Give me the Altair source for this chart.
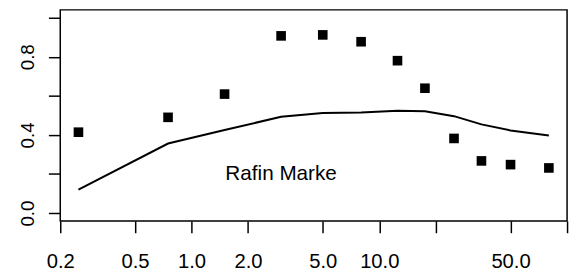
import altair as alt
import pandas as pd

x_vals = [0.25, 0.75, 1.5, 3, 5, 8, 12.5, 17.5, 25, 35, 50, 80]
point_vals = [0.414, 0.490, 0.609, 0.907, 0.912, 0.877, 0.780, 0.639, 0.382, 0.267, 0.248, 0.231]
line_vals = [0.120, 0.356, 0.425, 0.493, 0.512, 0.515, 0.524, 0.521, 0.496, 0.454, 0.423, 0.397]
x_ticks = [0.2, 0.5, 1, 2, 5, 10, 20, 50, 100]
y_ticks = [0, 0.2, 0.4, 0.6, 0.8, 1.0]
label_text = ["Rafin Marke"]
label_x = [3.0]
label_y = [0.2]

df = pd.DataFrame({"x": x_vals, "p": point_vals, "l": line_vals})
lab = pd.DataFrame({"x": label_x, "y": label_y, "t": label_text})

FONT = "Liberation Sans"

xscale = alt.Scale(type="log", domain=[0.2, 100], nice=False)
yscale = alt.Scale(domain=[-0.04, 1.04], nice=False, zero=False)

xaxis = alt.Axis(
    values=x_ticks, title=None, grid=False, domain=False,
    tickColor="black", tickWidth=1.5, tickSize=12,
    labelExpr="(datum.value == 20 || datum.value == 100) ? '' : format(datum.value, '.1f')",
    labelFont=FONT, labelFontSize=20.5, labelColor="black",
    labelBaseline="alphabetic", labelPadding=35, labelOverlap=False, labelFlush=False,
)
yaxis = alt.Axis(
    values=y_ticks, title=None, grid=False, domain=False,
    tickColor="black", tickWidth=1.5, tickSize=12,
    labelExpr="indexof([0, 0.4, 0.8], datum.value) >= 0 ? format(datum.value, '.1f') : ''",
    labelFont=FONT, labelFontSize=19, labelColor="black",
    labelAngle=-90, labelAlign="center", labelBaseline="alphabetic",
    labelPadding=15, labelOverlap=False, labelFlush=False,
)

base = alt.Chart(df)
points = base.mark_square(size=95, color="black", opacity=1).encode(
    x=alt.X("x:Q", scale=xscale, axis=xaxis),
    y=alt.Y("p:Q", scale=yscale, axis=yaxis),
)
line = base.mark_line(color="black", strokeWidth=2).encode(
    x=alt.X("x:Q", scale=xscale),
    y=alt.Y("l:Q", scale=yscale),
)
text = alt.Chart(lab).mark_text(
    font=FONT, fontSize=21, color="black", align="center", baseline="middle"
).encode(
    x=alt.X("x:Q", scale=xscale),
    y=alt.Y("y:Q", scale=yscale),
    text="t:N",
)

chart = alt.layer(points, line, text).properties(
    width=514, height=214,
    autosize=alt.AutoSizeParams(type="none"),
    padding={"left": 53, "top": 0, "right": 5, "bottom": 55},
    background="white",
).configure_view(stroke="black", strokeWidth=1.5)

chart.save("out.html", embed_options={"renderer": "svg", "actions": False})
